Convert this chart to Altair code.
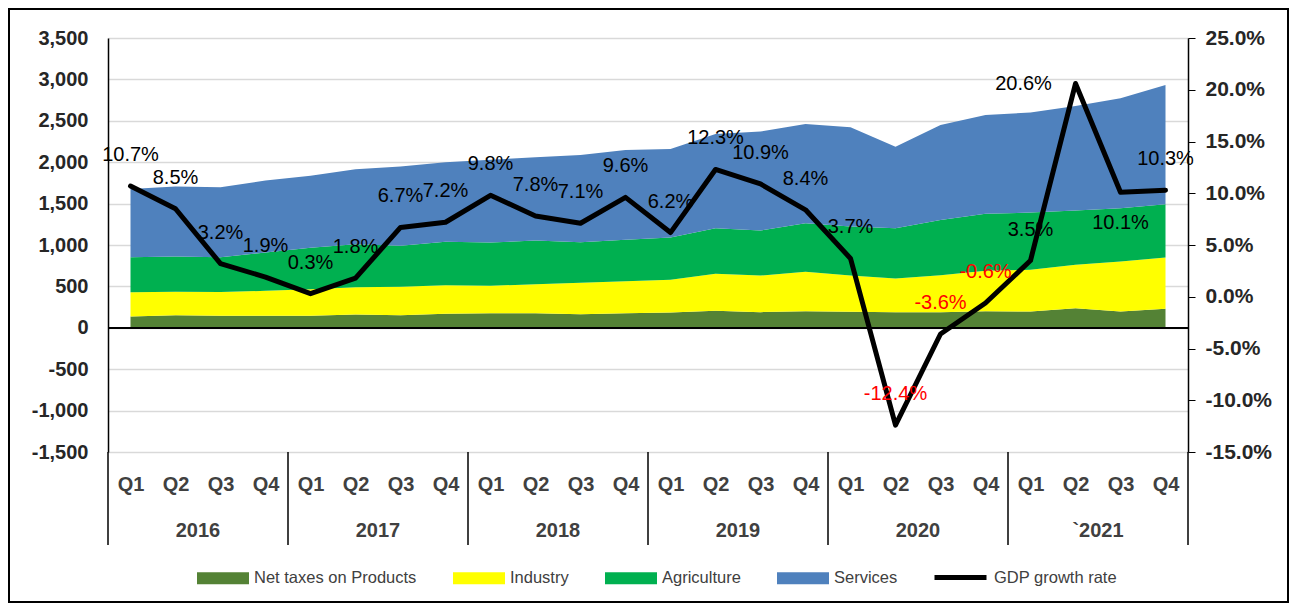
import altair as alt
import pandas as pd

years = ["2016", "2017", "2018", "2019", "2020", "`2021"]
quarters = ["Q1", "Q2", "Q3", "Q4"]
series_names = ["Net taxes on Products", "Industry", "Agriculture", "Services"]
series_colors = ["#548235", "#FFFF00", "#00B050", "#4F81BD"]

net_taxes = [135, 153, 145, 145, 145, 161, 153, 169, 177, 177, 165, 177,
             185, 205, 189, 201, 193, 189, 189, 201, 197, 237, 197, 229]
industry = [295, 282, 286, 302, 322, 330, 342, 346, 330, 350, 378, 386,
            394, 447, 442, 475, 438, 406, 447, 487, 503, 523, 603, 620]
agriculture = [421, 426, 422, 462, 499, 519, 495, 523, 523, 527, 491, 499,
               511, 551, 544, 587, 592, 608, 667, 688, 692, 656, 644, 644]
services = [825, 845, 843, 869, 870, 905, 957, 962, 1000, 1006, 1053, 1086,
            1070, 1139, 1195, 1199, 1199, 985, 1147, 1195, 1207, 1263, 1328, 1440]
gdp_growth = [10.7, 8.5, 3.2, 1.9, 0.3, 1.8, 6.7, 7.2, 9.8, 7.8, 7.1, 9.6,
              6.2, 12.3, 10.9, 8.4, 3.7, -12.4, -3.6, -0.6, 3.5, 20.6, 10.1, 10.3]

FONT = "Liberation Sans"
n = len(gdp_growth)

rows = []
for k, (name, vals) in enumerate(zip(series_names, [net_taxes, industry, agriculture, services])):
    for i, v in enumerate(vals):
        rows.append({"idx": i, "series": name, "value": v, "order": k})
area_df = pd.DataFrame(rows)

gdp_df = pd.DataFrame({"idx": list(range(n)), "gdp": gdp_growth,
                       "name": ["GDP growth rate"] * n})
year_df = pd.DataFrame({"year": years, "center": [4 * i + 1.5 for i in range(len(years))]})
sep_df = pd.DataFrame({"pos": [4 * i - 0.5 for i in range(len(years) + 1)]})

xscale = alt.Scale(domain=[-0.5, n - 0.5], nice=False, zero=False)
xaxis = alt.Axis(values=list(range(n)), labelExpr="['Q1','Q2','Q3','Q4'][datum.value % 4]",
                 grid=False, domain=False, ticks=False, tickSize=0, labelPadding=22,
                 labelFontSize=20, labelFontWeight="bold", labelColor="#404040",
                 labelFlush=False, title=None)

left_axis = alt.Axis(values=list(range(-1500, 3501, 500)),
                     labelExpr="(datum.value < 0 ? '-' : '') + format(abs(datum.value), ',')",
                     grid=True, gridColor="#D9D9D9", gridWidth=1.5, domain=True,
                     domainColor="black", domainWidth=1.5, ticks=False, labelPadding=20,
                     labelFontSize=20, labelFontWeight="bold", labelColor="#262626", title=None)

right_axis = alt.Axis(orient="right", values=list(range(-15, 26, 5)),
                      labelExpr="(datum.value < 0 ? '-' : '') + format(abs(datum.value), '.1f') + '%'",
                      grid=False, domain=True, domainColor="black", domainWidth=1.5,
                      ticks=True, tickColor="black", tickSize=7, labelPadding=10,
                      labelFontSize=21, labelFontWeight="bold", labelColor="#262626", title=None)

areas = alt.Chart(area_df).mark_area(opacity=1).encode(
    x=alt.X("idx:Q", scale=xscale, axis=xaxis),
    y=alt.Y("value:Q", stack="zero", scale=alt.Scale(domain=[-1500, 3500], nice=False), axis=left_axis),
    fill=alt.Fill("series:N", scale=alt.Scale(domain=series_names, range=series_colors),
                  legend=alt.Legend(orient="none", legendX=89, legendY=514, direction="horizontal",
                                    title=None, symbolType="M-1,-0.23L1,-0.23L1,0.23L-1,0.23Z",
                                    symbolSize=2704, symbolStrokeWidth=0, symbolOpacity=1,
                                    labelFontSize=16.5, labelFont=FONT, labelColor="#404040",
                                    labelLimit=400, columnPadding=36, labelOffset=5, padding=0)),
    order=alt.Order("order:Q"),
)

zero_line = alt.Chart(gdp_df).mark_rule(color="black", strokeWidth=1.5).encode(y=alt.datum(0))

separators = alt.Chart(sep_df).mark_rule(color="black", strokeWidth=1.5).encode(
    x=alt.X("pos:Q"), y=alt.value(414), y2=alt.value(507))

year_labels = alt.Chart(year_df).mark_text(fontSize=20, fontWeight="bold", color="#404040",
                                           font=FONT, baseline="middle").encode(
    x=alt.X("center:Q"), y=alt.value(493), text="year:N")

frame = alt.Chart(alt.Data(values=[{"a": 1}])).mark_rect(filled=False, stroke="black", strokeWidth=2).encode(
    x=alt.value(-99), x2=alt.value(1180), y=alt.value(-29), y2=alt.value(564))

left = alt.layer(areas, zero_line, separators, year_labels, frame)

yg = alt.Y("gdp:Q", scale=alt.Scale(domain=[-15, 25], nice=False), axis=right_axis)

line = alt.Chart(gdp_df).mark_line(strokeWidth=5, strokeJoin="round", strokeCap="round").encode(
    x=alt.X("idx:Q"), y=yg,
    stroke=alt.Stroke("name:N", scale=alt.Scale(domain=["GDP growth rate"], range=["black"]),
                      legend=alt.Legend(orient="none", legendX=824, legendY=511, title=None,
                                        symbolType="stroke", symbolSize=2704, symbolStrokeWidth=5,
                                        labelFontSize=16.5, labelFont=FONT, labelColor="#404040",
                                        labelLimit=400, labelOffset=5, padding=0)),
)

label_base = alt.Chart(gdp_df).transform_calculate(
    label="(datum.gdp < 0 ? '-' : '') + format(abs(datum.gdp), '.1f') + '%'")
label_color = alt.condition("datum.gdp < 0", alt.value("#FF0000"), alt.value("black"))

labels_above = label_base.transform_filter("datum.idx != 21 && datum.idx != 22").mark_text(
    dy=-31, fontSize=20, font=FONT, baseline="middle").encode(
    x="idx:Q", y=yg, text="label:N", color=label_color)
labels_below = label_base.transform_filter("datum.idx == 22").mark_text(
    dy=31, fontSize=20, font=FONT, baseline="middle").encode(
    x="idx:Q", y=yg, text="label:N", color=label_color)
labels_left = label_base.transform_filter("datum.idx == 21").mark_text(
    dx=-52, dy=0, fontSize=20, font=FONT, baseline="middle").encode(
    x="idx:Q", y=yg, text="label:N", color=label_color)

right = alt.layer(line, labels_above, labels_below, labels_left)

chart = alt.layer(left, right).resolve_scale(y="independent").properties(
    width=1080, height=414,
    autosize=alt.AutoSizeParams(type="none"),
    padding={"left": 100, "top": 30, "right": 101, "bottom": 151},
).configure_view(stroke=None).configure_axis(labelFont=FONT).configure_text(font=FONT)

chart.save("out.html", embed_options={"renderer": "svg", "actions": False})
